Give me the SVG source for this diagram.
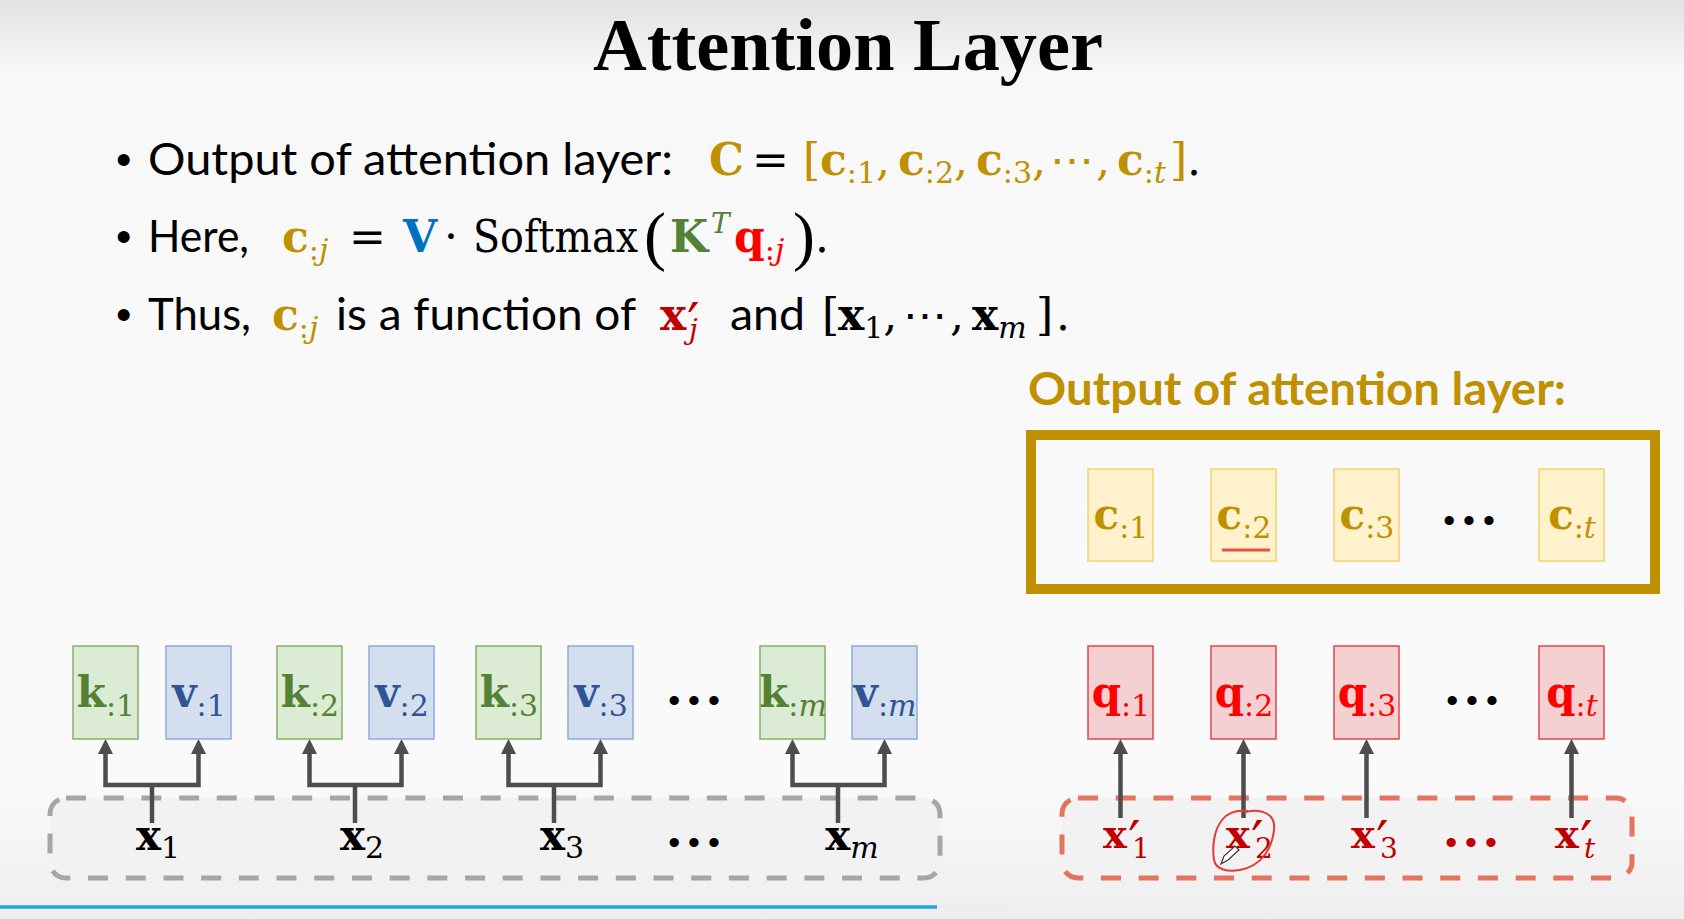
<svg xmlns="http://www.w3.org/2000/svg" width="1684" height="919" viewBox="0 0 1684 919">
<defs>
<linearGradient id="bg" x1="0" y1="0" x2="0" y2="1">
<stop offset="0" stop-color="#e2e2e2"/>
<stop offset="0.08" stop-color="#f8f8f8"/>
<stop offset="0.85" stop-color="#fafafa"/>
<stop offset="1" stop-color="#eeeeee"/>
</linearGradient>
<marker id="ah" markerUnits="userSpaceOnUse" markerWidth="16" markerHeight="16" refX="0" refY="7.5" orient="auto-start-reverse">
<path d="M0,0 L15,7.5 L0,15 Z" fill="#4d4d4d"/>
</marker>
<style>
.s{font-family:Lato,"Open Sans","Liberation Sans",sans-serif;font-size:45px;fill:#000}
.m{font-family:"DejaVu Serif","Liberation Serif",serif;font-size:44px;fill:#000}
.b{font-weight:bold}
.i{font-style:italic}
.g{fill:#bf9000}
.bl{fill:#0070c0}
.gr{fill:#548235}
.rd{fill:#ff0000}
.dr{fill:#c00000}
.vb{fill:#2f5597}
.dots{font-family:"Liberation Sans",sans-serif;font-size:34px;letter-spacing:8px;text-anchor:middle}
.kbox{fill:#dcebd3;stroke:#82b366;stroke-width:1.5}
.vbox{fill:#d3deef;stroke:#8faadc;stroke-width:1.5}
.qbox{fill:#f5d0d2;stroke:#e0474c;stroke-width:1.5}
.cbox{fill:#fff2cc;stroke:#f5d36a;stroke-width:1.5}
.lbl{font-family:"DejaVu Serif","Liberation Serif",serif;font-size:42px;text-anchor:middle}
.sub{font-size:30px}
.par{font-family:"Liberation Serif",serif;font-size:66px;fill:#000}
.sup{font-size:28px}
.pr{font-size:56px}
.xs{font-size:28px}
.xb{font-size:40px}
.conn{fill:none;stroke:#4d4d4d;stroke-width:4.5}
</style>
</defs>
<rect x="0" y="0" width="1684" height="919" fill="url(#bg)"/>

<g id="title">
<text x="593" y="70" font-family="Liberation Serif,serif" font-weight="bold" font-size="75" textLength="510" lengthAdjust="spacingAndGlyphs">Attention Layer</text>
</g>

<g id="bullets">
<text x="116" y="175" font-family="Liberation Sans,sans-serif" font-size="44">•</text>
<text x="148" y="175" class="s" textLength="525" lengthAdjust="spacingAndGlyphs">Output of attention layer:</text>
<text x="709" y="175" class="m b g">C</text>
<text x="752" y="175" class="m">=</text>
<text x="803" y="175" class="m g">[</text>
<text x="820" y="175" class="m g"><tspan class="b">c</tspan><tspan class="sub" dy="8">:1</tspan><tspan dy="-8">,</tspan></text>
<text x="898" y="175" class="m g"><tspan class="b">c</tspan><tspan class="sub" dy="8">:2</tspan><tspan dy="-8">,</tspan></text>
<text x="976" y="175" class="m g"><tspan class="b">c</tspan><tspan class="sub" dy="8">:3</tspan><tspan dy="-8">,</tspan></text>
<text x="1050" y="175" class="m g">⋯</text>
<text x="1096" y="175" class="m g">,</text>
<text x="1117" y="175" class="m g"><tspan class="b">c</tspan><tspan class="sub" dy="8">:</tspan><tspan class="sub i">t</tspan></text>
<text x="1170" y="175" class="m g">]</text>
<text x="1187" y="175" class="m">.</text>

<text x="116" y="252" font-family="Liberation Sans,sans-serif" font-size="44">•</text>
<text x="148" y="252" class="s" textLength="101" lengthAdjust="spacingAndGlyphs">Here,</text>
<text x="282" y="252" class="m g"><tspan class="b">c</tspan><tspan class="sub" dy="8">:</tspan><tspan class="sub i">j</tspan></text>
<text x="349" y="252" class="m">=</text>
<text x="403" y="252" class="m b bl">V</text>
<text x="444" y="252" class="m">·</text>
<text x="473" y="252" class="m" textLength="165" lengthAdjust="spacingAndGlyphs">Softmax</text>
<text x="644" y="258" class="par">(</text>
<text x="670" y="252" class="m b gr">K</text>
<text x="711" y="233" class="m i gr sup">T</text>
<text x="734" y="252" class="m rd"><tspan class="b">q</tspan><tspan class="sub" dy="8">:</tspan><tspan class="sub i">j</tspan></text>
<text x="793" y="258" class="par">)</text>
<text x="815" y="252" class="m">.</text>

<text x="116" y="330" font-family="Liberation Sans,sans-serif" font-size="44">•</text>
<text x="148" y="330" class="s" textLength="103" lengthAdjust="spacingAndGlyphs">Thus,</text>
<text x="272" y="330" class="m g"><tspan class="b">c</tspan><tspan class="sub" dy="8">:</tspan><tspan class="sub i">j</tspan></text>
<text x="336" y="330" class="s" textLength="300" lengthAdjust="spacingAndGlyphs">is a function of</text>
<text class="m dr" y="330"><tspan x="660" class="b">x</tspan><tspan x="687" y="343" class="pr">′</tspan><tspan x="689" y="339" class="i xs">j</tspan></text>
<text x="730" y="330" class="s" textLength="75" lengthAdjust="spacingAndGlyphs">and</text>
<text x="822" y="330" class="m">[</text>
<text x="838" y="330" class="m"><tspan class="b">x</tspan><tspan class="sub" dy="8">1</tspan><tspan dy="-8">,</tspan></text>
<text x="903" y="330" class="m">⋯</text>
<text x="950" y="330" class="m">,</text>
<text x="972" y="330" class="m"><tspan class="b">x</tspan><tspan class="sub i" dy="8">m</tspan></text>
<text x="1036" y="330" class="m">]</text>
<text x="1056" y="330" class="m">.</text>
</g>

<g id="inputs-left">
<rect x="50" y="798" width="890" height="80" rx="16" fill="#f2f2f2" stroke="#a6a6a6" stroke-width="5" stroke-dasharray="20 17.7"/>
</g>
<g id="inputs-right">
<rect x="1062" y="798" width="570" height="80" rx="16" fill="#f2f2f2" stroke="#e4735f" stroke-width="5" stroke-dasharray="20 17.7"/>
</g>

<g id="connectors">
<path class="conn" d="M105.5,754 V785 H198.5 V754" marker-start="url(#ah)" marker-end="url(#ah)"/>
<path class="conn" d="M152,785 V823"/>
<path class="conn" d="M309.5,754 V785 H401.5 V754" marker-start="url(#ah)" marker-end="url(#ah)"/>
<path class="conn" d="M355,785 V823"/>
<path class="conn" d="M508.5,754 V785 H600.5 V754" marker-start="url(#ah)" marker-end="url(#ah)"/>
<path class="conn" d="M554,785 V823"/>
<path class="conn" d="M792.5,754 V785 H884.5 V754" marker-start="url(#ah)" marker-end="url(#ah)"/>
<path class="conn" d="M838,785 V823"/>
<path class="conn" d="M1120.5,818 V754" marker-end="url(#ah)"/>
<path class="conn" d="M1243.5,818 V754" marker-end="url(#ah)"/>
<path class="conn" d="M1366.5,818 V754" marker-end="url(#ah)"/>
<path class="conn" d="M1571.5,818 V754" marker-end="url(#ah)"/>
</g>

<g id="k1"><rect class="kbox" x="73" y="646" width="65" height="93"/><text class="lbl gr" x="106" y="707"><tspan class="b">k</tspan><tspan class="sub" dy="9">:1</tspan></text></g>
<g id="v1"><rect class="vbox" x="166" y="646" width="65" height="93"/><text class="lbl vb" x="199" y="707"><tspan class="b">v</tspan><tspan class="sub" dy="9">:1</tspan></text></g>
<g id="k2"><rect class="kbox" x="277" y="646" width="65" height="93"/><text class="lbl gr" x="310" y="707"><tspan class="b">k</tspan><tspan class="sub" dy="9">:2</tspan></text></g>
<g id="v2"><rect class="vbox" x="369" y="646" width="65" height="93"/><text class="lbl vb" x="402" y="707"><tspan class="b">v</tspan><tspan class="sub" dy="9">:2</tspan></text></g>
<g id="k3"><rect class="kbox" x="476" y="646" width="65" height="93"/><text class="lbl gr" x="509" y="707"><tspan class="b">k</tspan><tspan class="sub" dy="9">:3</tspan></text></g>
<g id="v3"><rect class="vbox" x="568" y="646" width="65" height="93"/><text class="lbl vb" x="601" y="707"><tspan class="b">v</tspan><tspan class="sub" dy="9">:3</tspan></text></g>
<g id="dots-kv"><text class="dots" x="698" y="712">•••</text></g>
<g id="km"><rect class="kbox" x="760" y="646" width="65" height="93"/><text class="lbl gr" x="793" y="707"><tspan class="b">k</tspan><tspan class="sub" dy="9">:</tspan><tspan class="sub i">m</tspan></text></g>
<g id="vm"><rect class="vbox" x="852" y="646" width="65" height="93"/><text class="lbl vb" x="885" y="707"><tspan class="b">v</tspan><tspan class="sub" dy="9">:</tspan><tspan class="sub i">m</tspan></text></g>

<g id="x1"><text class="lbl" x="158" y="850"><tspan class="b">x</tspan><tspan class="sub" dy="8">1</tspan></text></g>
<g id="x2"><text class="lbl" x="362" y="850"><tspan class="b">x</tspan><tspan class="sub" dy="8">2</tspan></text></g>
<g id="x3"><text class="lbl" x="562" y="850"><tspan class="b">x</tspan><tspan class="sub" dy="8">3</tspan></text></g>
<g id="dots-x"><text class="dots" x="698" y="854">•••</text></g>
<g id="xm"><text class="lbl" x="852" y="850"><tspan class="b">x</tspan><tspan class="sub i" dy="8">m</tspan></text></g>

<g id="output-heading">
<text x="1028" y="405" class="s b g" textLength="538" lengthAdjust="spacingAndGlyphs">Output of attention layer:</text>
</g>
<g id="output-frame">
<rect x="1031" y="435" width="624" height="154" fill="none" stroke="#bf9000" stroke-width="10"/>
</g>
<g id="c1"><rect class="cbox" x="1088" y="469" width="65" height="92"/><text class="lbl g" x="1121" y="529"><tspan class="b">c</tspan><tspan class="sub" dy="9">:1</tspan></text></g>
<g id="c2"><rect class="cbox" x="1211" y="469" width="65" height="92"/><text class="lbl g" x="1244" y="529"><tspan class="b">c</tspan><tspan class="sub" dy="9">:2</tspan></text><line x1="1222" y1="550" x2="1270" y2="550" stroke="#e0553f" stroke-width="3"/></g>
<g id="c3"><rect class="cbox" x="1334" y="469" width="65" height="92"/><text class="lbl g" x="1367" y="529"><tspan class="b">c</tspan><tspan class="sub" dy="9">:3</tspan></text></g>
<g id="dots-c"><text class="dots" x="1473" y="532">•••</text></g>
<g id="ct"><rect class="cbox" x="1539" y="469" width="65" height="92"/><text class="lbl g" x="1572" y="529"><tspan class="b">c</tspan><tspan class="sub" dy="9">:</tspan><tspan class="sub i">t</tspan></text></g>

<g id="q1"><rect class="qbox" x="1088" y="646" width="65" height="93"/><text class="lbl rd" x="1121" y="707"><tspan class="b">q</tspan><tspan class="sub" dy="9">:1</tspan></text></g>
<g id="q2"><rect class="qbox" x="1211" y="646" width="65" height="93"/><text class="lbl rd" x="1244" y="707"><tspan class="b">q</tspan><tspan class="sub" dy="9">:2</tspan></text></g>
<g id="q3"><rect class="qbox" x="1334" y="646" width="65" height="93"/><text class="lbl rd" x="1367" y="707"><tspan class="b">q</tspan><tspan class="sub" dy="9">:3</tspan></text></g>
<g id="dots-q"><text class="dots" x="1476" y="712">•••</text></g>
<g id="qt"><rect class="qbox" x="1539" y="646" width="65" height="93"/><text class="lbl rd" x="1572" y="707"><tspan class="b">q</tspan><tspan class="sub" dy="9">:</tspan><tspan class="sub i">t</tspan></text></g>

<g id="xp1"><text class="m dr" y="848"><tspan x="1103" class="b xb">x</tspan><tspan x="1128" y="861" class="pr">′</tspan><tspan x="1132" y="858" class="xs">1</tspan></text></g>
<g id="xp2"><text class="m dr" y="848"><tspan x="1226" class="b xb">x</tspan><tspan x="1251" y="861" class="pr">′</tspan><tspan x="1255" y="858" class="xs">2</tspan></text></g>
<g id="xp3"><text class="m dr" y="848"><tspan x="1351" class="b xb">x</tspan><tspan x="1376" y="861" class="pr">′</tspan><tspan x="1380" y="858" class="xs">3</tspan></text></g>
<g id="dots-xp"><text class="dots dr" x="1475" y="854">•••</text></g>
<g id="xpt"><text class="m dr" y="848"><tspan x="1555" class="b xb">x</tspan><tspan x="1580" y="861" class="pr">′</tspan><tspan x="1584" y="858" class="i xs">t</tspan></text></g>

<g id="annotation">
<path d="M1246,812 C1262,808 1276,814 1274,830 C1272,848 1262,866 1240,870 C1228,872 1216,870 1214,860 C1212,846 1214,830 1222,820 C1228,812 1238,810 1248,811" fill="none" stroke="#e8383a" stroke-width="2"/>
<path d="M1221,864 L1224,856 L1235,846 L1239,850 L1228,860 Z" fill="#ffffff" stroke="#333333" stroke-width="1.2"/>
</g>

<g id="progress">
<line x1="0" y1="907" x2="937" y2="907" stroke="#1ea7dc" stroke-width="3.5"/>
<line x1="937" y1="907" x2="1010" y2="907" stroke="#ececec" stroke-width="3.5"/>
</g>
</svg>
